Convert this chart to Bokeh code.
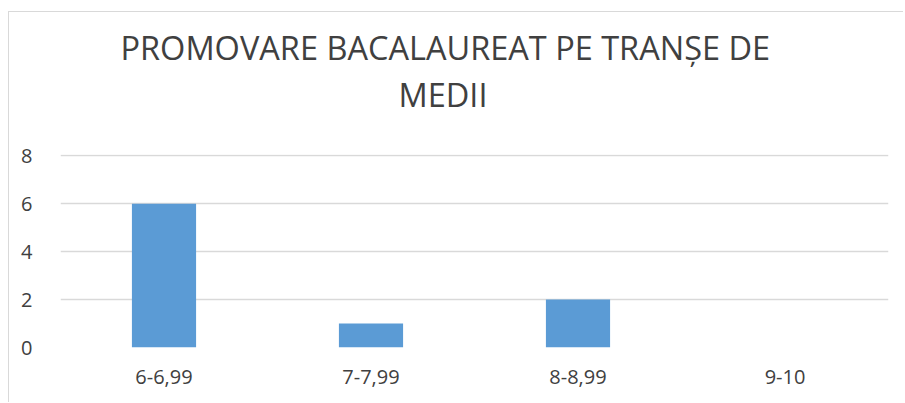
from bokeh.plotting import figure
from bokeh.models import FactorRange, Range1d, Title, FixedTicker, ColumnDataSource
from bokeh.embed import file_html
from bokeh.resources import INLINE

categories = ["6-6,99", "7-7,99", "8-8,99", "9-10"]
values = [6, 1, 2, 0]
title_lines = ["PROMOVARE BACALAUREAT PE TRANȘE DE", "MEDII"]
y_ticks = [0, 2, 4, 6, 8]

FONT = "Open Sans"
TXT = "#404040"

p = figure(width=895, height=391, output_backend="svg", toolbar_location=None,
           x_range=FactorRange(factors=categories, range_padding=0),
           y_range=Range1d(0, 8.05),
           min_border_left=51, min_border_right=16, min_border_top=142, min_border_bottom=56)
p.styles = {"border-left": "1px solid #d9d9d9", "border-top": "1px solid #d9d9d9",
            "margin-top": "11px", "margin-left": "8px"}

src = ColumnDataSource(dict(x=categories, top=values))
p.vbar(x="x", top="top", width=0.31, source=src, color="#5B9BD5", line_color=None)

p.outline_line_color = None
p.xgrid.grid_line_color = None
p.ygrid.grid_line_color = "#d9d9d9"
p.ygrid.grid_line_width = 1.3
p.yaxis.ticker = FixedTicker(ticks=y_ticks)
for ax in (p.xaxis[0], p.yaxis[0]):
    ax.axis_line_color = None
    ax.major_tick_line_color = None
    ax.minor_tick_line_color = None
    ax.major_label_text_font = FONT
    ax.major_label_text_font_size = "20px"
    ax.major_label_text_color = TXT
p.yaxis.major_label_standoff = 22
p.xaxis.major_label_standoff = 16

# spacer between the frame and the title block
p.add_layout(Title(text=" ", text_font_size="1px", standoff=35), "above")
# title lines: second line first (closest to the frame), then first line above it
p.add_layout(Title(text=title_lines[1], align="left", offset=338, standoff=0,
                   text_font=FONT, text_font_size="32.5px", text_font_style="normal",
                   text_color=TXT, text_line_height=0.92), "above")
p.add_layout(Title(text=title_lines[0], align="left", offset=60, standoff=0,
                   text_font=FONT, text_font_size="32.5px", text_font_style="normal",
                   text_color=TXT, text_line_height=0.92), "above")

open("out.html", "w").write(file_html(p, INLINE))
